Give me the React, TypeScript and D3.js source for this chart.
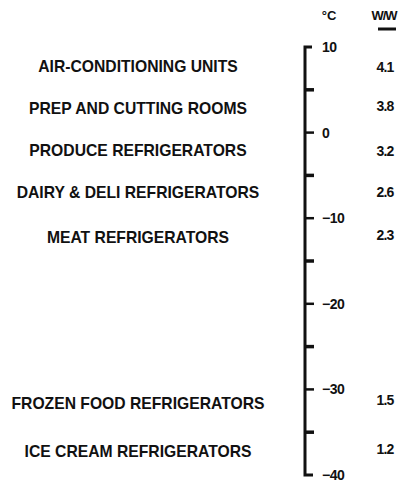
import React from "react";
import * as d3 from "d3";

const categories = [
  "AIR-CONDITIONING UNITS",
  "PREP AND CUTTING ROOMS",
  "PRODUCE REFRIGERATORS",
  "DAIRY & DELI REFRIGERATORS",
  "MEAT REFRIGERATORS",
  "FROZEN FOOD REFRIGERATORS",
  "ICE CREAM REFRIGERATORS",
];
const categoryTemps = [7.7, 2.8, -2.1, -7.0, -12.2, -31.6, -37.2];
const wattValues = ["4.1", "3.8", "3.2", "2.6", "2.3", "1.5", "1.2"];
const valueTemps = [7.7, 3.1, -2.2, -7.0, -12.0, -31.2, -37.0];
const majorTicks = [10, 0, -10, -20, -30, -40];
const minorTicks = [5, -5, -15, -25, -35];
const tickLabels = ["10", "0", "\u221210", "\u221220", "\u221230", "\u221240"];

const W = 404;
const H = 482;
const FONT = "'Liberation Sans', Arial, Helvetica, sans-serif";

export default function App() {
  const y = d3.scaleLinear().domain([10, -40]).range([47, 475]);
  const axisX = 305;
  const labelX = 138;
  const valueX = 385;
  const ink = "#111";

  return (
    <svg
      width={W}
      height={H}
      style={{ position: "absolute", left: 0, top: 0, display: "block", background: "#fff" }}
      fontFamily={FONT}
    >
      {/* headers */}
      <text x={329} y={15} dy="0.35em" textAnchor="middle" fontSize={13} fontWeight="bold" fill={ink}>
        °C
      </text>
      <text x={384} y={15} dy="0.35em" textAnchor="middle" fontSize={13} fontWeight="bold" fill={ink} letterSpacing={-1}>
        W/W
      </text>
      <line x1={378} x2={396} y1={29} y2={29} stroke={ink} strokeWidth={3} />

      {/* axis line */}
      <path
        d={`M${axisX + 7},${y(10)} L${axisX},${y(10)} L${axisX},${y(-40)} L${axisX + 8},${y(-40)}`}
        fill="none"
        stroke={ink}
        strokeWidth={3}
      />
      {majorTicks.slice(1, -1).map((t) => (
        <line key={"M" + t} x1={axisX} x2={axisX + 9} y1={y(t)} y2={y(t)} stroke={ink} strokeWidth={2.5} />
      ))}
      {minorTicks.map((t) => (
        <line key={"m" + t} x1={axisX} x2={axisX + 9} y1={y(t)} y2={y(t)} stroke={ink} strokeWidth={3.5} />
      ))}
      {majorTicks.map((t, i) => (
        <text key={"l" + t} x={322} y={y(t)} dy="0.35em" fontSize={14} fill={ink} fontWeight="bold" letterSpacing={-0.5}>
          {tickLabels[i]}
        </text>
      ))}

      {/* categories */}
      {categories.map((c, i) => (
        <text
          key={c}
          x={labelX}
          y={y(categoryTemps[i])}
          dy="0.35em"
          textAnchor="middle"
          fontSize={15.7}
          fontWeight="bold"
          fill={ink}
        >
          {c}
        </text>
      ))}

      {/* values */}
      {wattValues.map((v, i) => (
        <text
          key={"v" + i}
          x={valueX}
          y={y(valueTemps[i])}
          dy="0.35em"
          textAnchor="middle"
          fontSize={14}
          fontWeight="bold"
          letterSpacing={-0.8}
          fill={ink}
        >
          {v}
        </text>
      ))}
    </svg>
  );
}
